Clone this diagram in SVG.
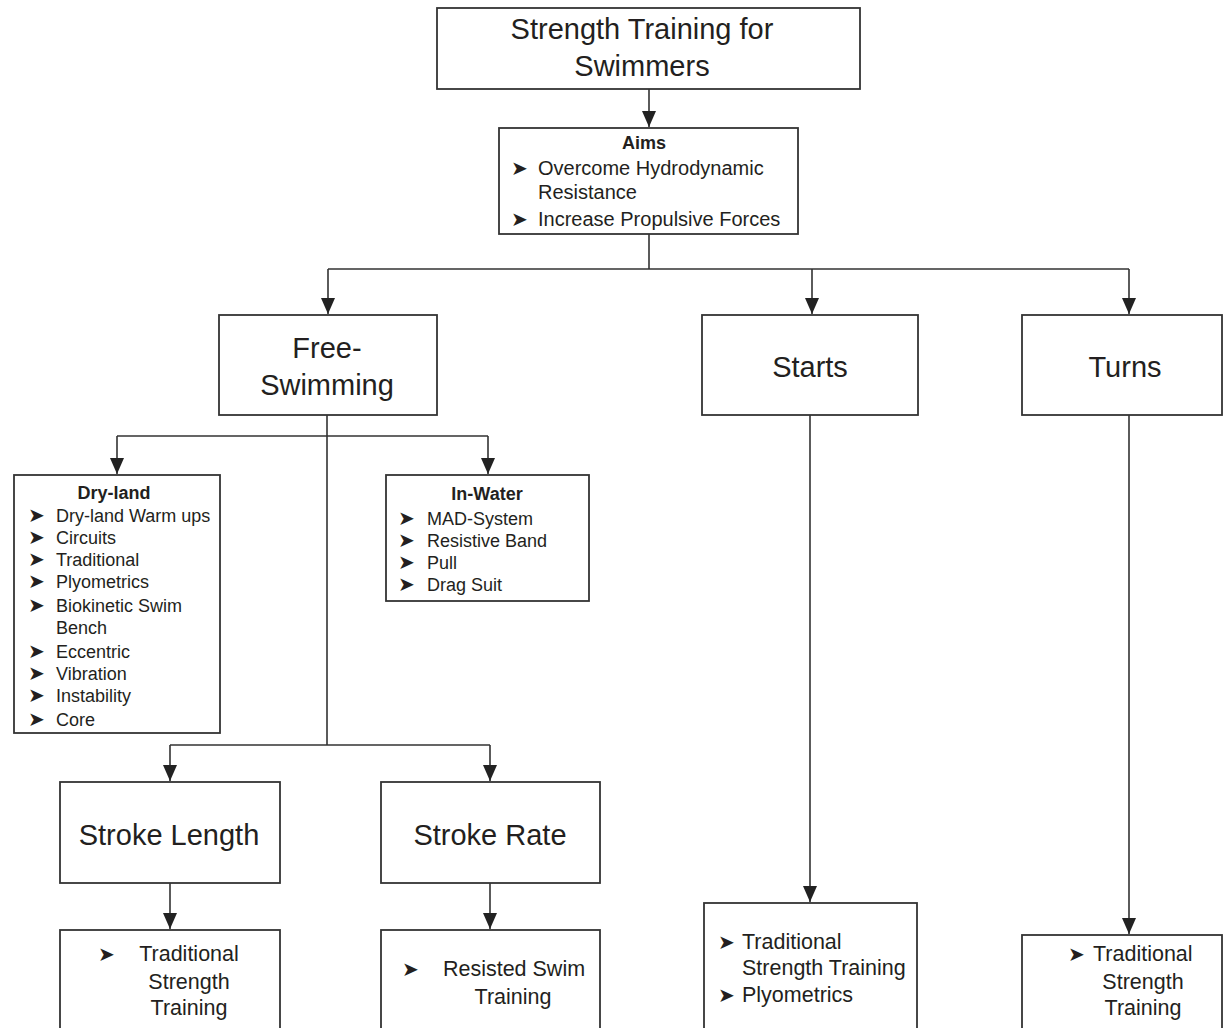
<svg xmlns="http://www.w3.org/2000/svg" width="1223" height="1028" viewBox="0 0 1223 1028">
<style>
.box{fill:#fff;stroke:#333;stroke-width:1.8}
.ln{fill:none;stroke:#333;stroke-width:1.6}
.t{font-family:"Liberation Sans",Arial,sans-serif;fill:#231f20}
.big{font-size:29px}
.mid{font-size:21.5px}
.sm{font-size:18px}
.aim{font-size:20px}
.b{font-weight:bold}
.c{text-anchor:middle}
.bul{font-family:"DejaVu Sans",sans-serif;fill:#231f20;font-size:20px}
</style>
<defs>
<marker id="ah" markerUnits="userSpaceOnUse" markerWidth="16" markerHeight="14" viewBox="0 0 16 14" refX="16" refY="7" orient="auto">
<path d="M0,0 L16,7 L0,14 Z" fill="#222"/>
</marker>
</defs>
<g id="connectors">
<path class="ln" d="M649,89 V127" marker-end="url(#ah)"/>
<path class="ln" d="M649,234 V269 M328,269 H1129"/>
<path class="ln" d="M328,269 V314" marker-end="url(#ah)"/>
<path class="ln" d="M812,269 V314" marker-end="url(#ah)"/>
<path class="ln" d="M1129,269 V314" marker-end="url(#ah)"/>
<path class="ln" d="M327,415 V745 M117,436 H488 M170,745 H490"/>
<path class="ln" d="M117,436 V474" marker-end="url(#ah)"/>
<path class="ln" d="M488,436 V474" marker-end="url(#ah)"/>
<path class="ln" d="M170,745 V781" marker-end="url(#ah)"/>
<path class="ln" d="M490,745 V781" marker-end="url(#ah)"/>
<path class="ln" d="M170,883 V929" marker-end="url(#ah)"/>
<path class="ln" d="M490,883 V929" marker-end="url(#ah)"/>
<path class="ln" d="M810,415 V902" marker-end="url(#ah)"/>
<path class="ln" d="M1129,415 V934" marker-end="url(#ah)"/>
</g>
<g id="root">
<rect class="box" x="437" y="8" width="423" height="81"/>
<text class="t big c" x="642" y="39">Strength Training for</text>
<text class="t big c" x="642" y="76">Swimmers</text>
</g>
<g id="aims">
<rect class="box" x="499" y="128" width="299" height="106"/>
<text class="t sm b c" x="644" y="149">Aims</text>
<text class="bul" x="511" y="175">➤</text>
<text class="t aim" x="538" y="175">Overcome Hydrodynamic</text>
<text class="t aim" x="538" y="199">Resistance</text>
<text class="bul" x="511" y="226">➤</text>
<text class="t aim" x="538" y="226">Increase Propulsive Forces</text>
</g>
<g id="free">
<rect class="box" x="219" y="315" width="218" height="100"/>
<text class="t big c" x="327" y="358">Free-</text>
<text class="t big c" x="327" y="395">Swimming</text>
</g>
<g id="starts">
<rect class="box" x="702" y="315" width="216" height="100"/>
<text class="t big c" x="810" y="377">Starts</text>
</g>
<g id="turns">
<rect class="box" x="1022" y="315" width="200" height="100"/>
<text class="t big c" x="1125" y="377">Turns</text>
</g>
<g id="dryland">
<rect class="box" x="14" y="475" width="206" height="258"/>
<text class="t sm b c" x="114" y="499">Dry-land</text>
<g class="bul">
<text x="28" y="522">➤</text><text x="28" y="544">➤</text><text x="28" y="566">➤</text><text x="28" y="588">➤</text><text x="28" y="612">➤</text><text x="28" y="658">➤</text><text x="28" y="680">➤</text><text x="28" y="702">➤</text><text x="28" y="726">➤</text>
</g>
<text class="t sm" x="56" y="522">Dry-land Warm ups</text>
<text class="t sm" x="56" y="544">Circuits</text>
<text class="t sm" x="56" y="566">Traditional</text>
<text class="t sm" x="56" y="588">Plyometrics</text>
<text class="t sm" x="56" y="612">Biokinetic Swim</text>
<text class="t sm" x="56" y="634">Bench</text>
<text class="t sm" x="56" y="658">Eccentric</text>
<text class="t sm" x="56" y="680">Vibration</text>
<text class="t sm" x="56" y="702">Instability</text>
<text class="t sm" x="56" y="726">Core</text>
</g>
<g id="inwater">
<rect class="box" x="386" y="475" width="203" height="126"/>
<text class="t sm b c" x="487" y="500">In-Water</text>
<g class="bul">
<text x="398" y="525">➤</text><text x="398" y="547">➤</text><text x="398" y="569">➤</text><text x="398" y="591">➤</text>
</g>
<text class="t sm" x="427" y="525">MAD-System</text>
<text class="t sm" x="427" y="547">Resistive Band</text>
<text class="t sm" x="427" y="569">Pull</text>
<text class="t sm" x="427" y="591">Drag Suit</text>
</g>
<g id="strokelength">
<rect class="box" x="60" y="782" width="220" height="101"/>
<text class="t big c" x="169" y="845">Stroke Length</text>
</g>
<g id="strokerate">
<rect class="box" x="381" y="782" width="219" height="101"/>
<text class="t big c" x="490" y="845">Stroke Rate</text>
</g>
<g id="sl-train">
<rect class="box" x="60" y="930" width="220" height="110"/>
<text class="bul" x="98" y="961">➤</text>
<text class="t mid c" x="189" y="961">Traditional</text>
<text class="t mid c" x="189" y="989">Strength</text>
<text class="t mid c" x="189" y="1015">Training</text>
</g>
<g id="sr-train">
<rect class="box" x="381" y="930" width="219" height="110"/>
<text class="bul" x="402" y="976">➤</text>
<text class="t mid c" x="514" y="976">Resisted Swim</text>
<text class="t mid c" x="513" y="1004">Training</text>
</g>
<g id="starts-train">
<rect class="box" x="704" y="903" width="213" height="137"/>
<text class="bul" x="718" y="949">➤</text>
<text class="t mid" x="742" y="949">Traditional</text>
<text class="t mid" x="742" y="975">Strength Training</text>
<text class="bul" x="718" y="1002">➤</text>
<text class="t mid" x="742" y="1002">Plyometrics</text>
</g>
<g id="turns-train">
<rect class="box" x="1022" y="935" width="200" height="105"/>
<text class="bul" x="1068" y="961">➤</text>
<text class="t mid" x="1093" y="961">Traditional</text>
<text class="t mid c" x="1143" y="989">Strength</text>
<text class="t mid c" x="1143" y="1015">Training</text>
</g>
</svg>
